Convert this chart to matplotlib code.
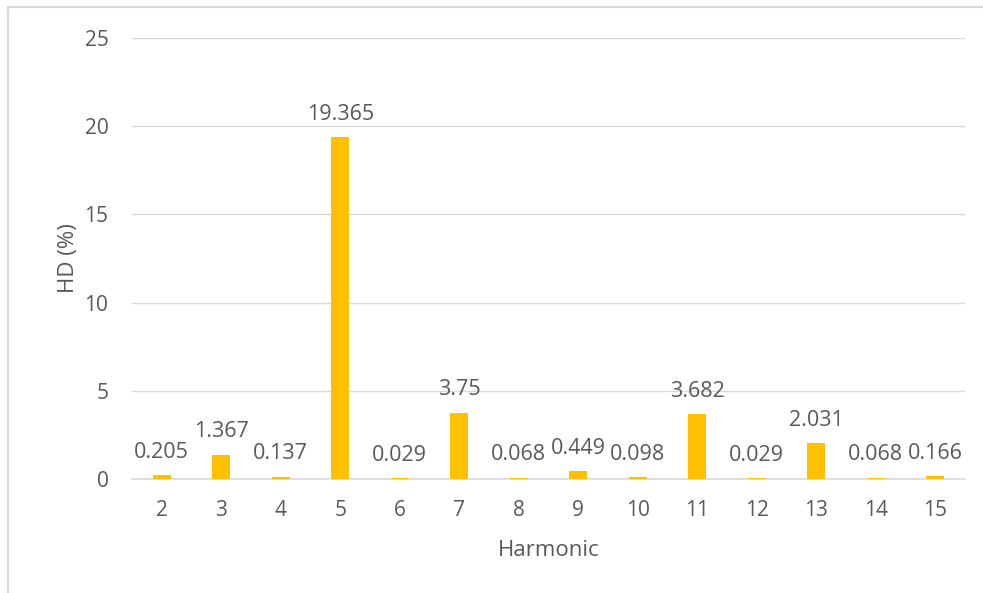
import matplotlib
matplotlib.use("Agg")
import matplotlib.pyplot as plt
from matplotlib.lines import Line2D

harmonics = [2, 3, 4, 5, 6, 7, 8, 9, 10, 11, 12, 13, 14, 15]
hd_values = [0.205, 1.367, 0.137, 19.365, 0.029, 3.75, 0.068, 0.449,
             0.098, 3.682, 0.029, 2.031, 0.068, 0.166]
hd_labels = ["0.205", "1.367", "0.137", "19.365", "0.029", "3.75", "0.068",
             "0.449", "0.098", "3.682", "0.029", "2.031", "0.068", "0.166"]
y_ticks = [0, 5, 10, 15, 20, 25]

plt.rcParams['font.family'] = ['Open Sans', 'DejaVu Sans']
text_color = "#595959"
bar_color = "#FFC000"
grid_color = "#D9D9D9"

fig = plt.figure(figsize=(9.83, 5.93), dpi=100)
W, H = 983, 593
# chart frame: top and left edges
fig.lines.append(Line2D([8 / W, 1.0], [(H - 7) / H, (H - 7) / H],
                        transform=fig.transFigure, color="#D9D9D9", linewidth=1.5))
fig.lines.append(Line2D([8 / W, 8 / W], [0.0, (H - 7) / H],
                        transform=fig.transFigure, color="#D9D9D9", linewidth=1.5))

ax = fig.add_axes([132 / W, (H - 479) / H, (965 - 132) / W, (479 - 38) / H])
x = list(range(len(harmonics)))
ax.bar(x, hd_values, width=0.31, color=bar_color, zorder=3)
for xi, v, lab in zip(x, hd_values, hd_labels):
    ax.annotate(lab, (xi, v), xytext=(0, 9), textcoords="offset points",
                ha="center", va="bottom", fontsize=15.5, color=text_color)

ax.set_xlim(-0.5, len(harmonics) - 0.5)
ax.set_ylim(0, 25)
ax.set_yticks(y_ticks)
ax.set_xticks(x)
ax.set_xticklabels([str(h) for h in harmonics])
ax.tick_params(axis="both", length=0, labelsize=15, colors=text_color)
ax.tick_params(axis="y", pad=17)
ax.tick_params(axis="x", pad=15)
ax.grid(axis="y", color=grid_color, linewidth=1, zorder=0)
for s in ["top", "right", "left"]:
    ax.spines[s].set_visible(False)
ax.spines["bottom"].set_color(grid_color)
ax.spines["bottom"].set_linewidth(1.2)
ax.set_xlabel("Harmonic", fontsize=16, color=text_color, labelpad=14)
ax.set_ylabel("HD (%)", fontsize=16, color=text_color, labelpad=4)

fig.savefig("out.png", dpi=100)
